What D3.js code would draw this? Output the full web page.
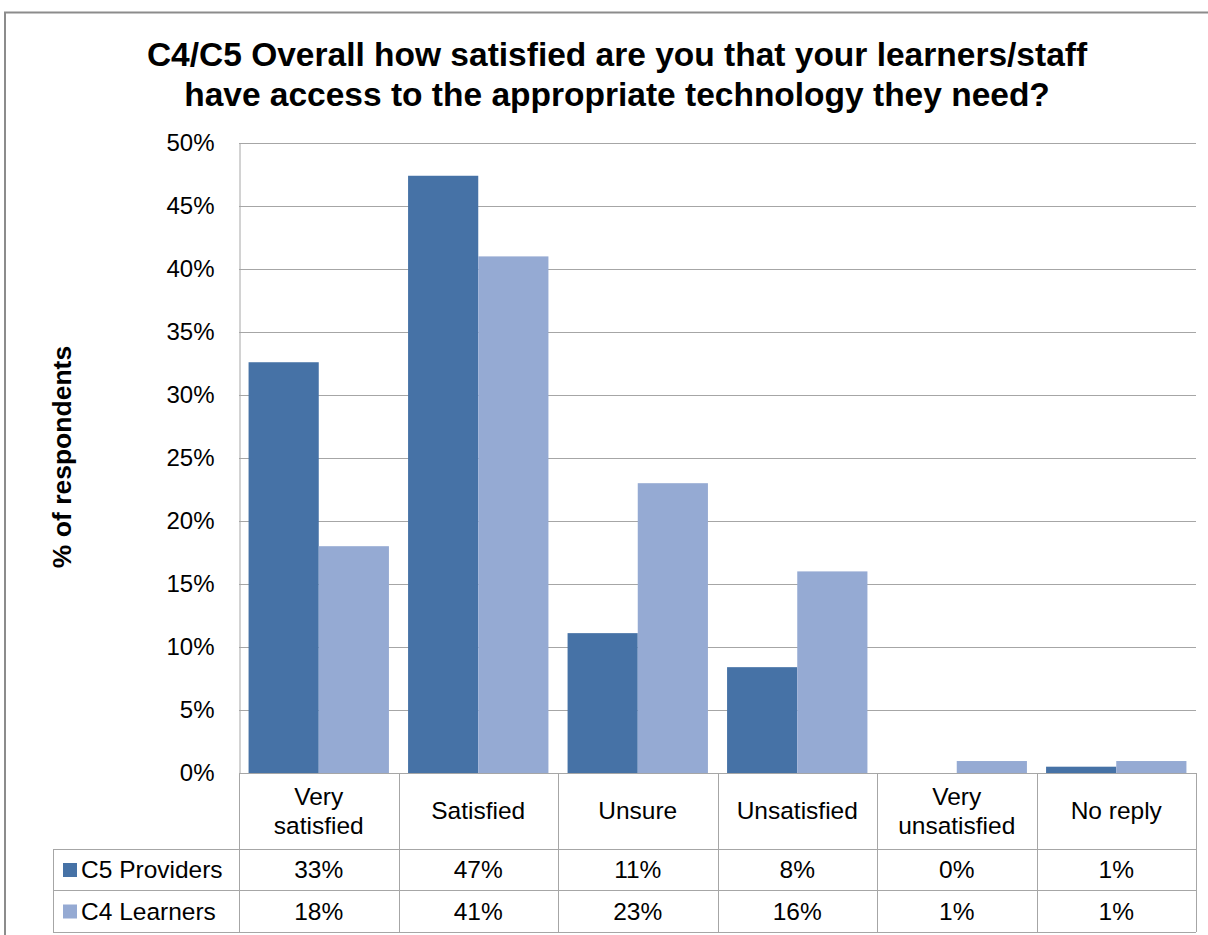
<!DOCTYPE html>
<html>
<head>
<meta charset="utf-8">
<script src="https://cdn.jsdelivr.net/npm/d3@7"></script>
<style>
  body { margin: 0; background: #fff; }
  svg { display: block; font-family: "Liberation Sans", Arial, sans-serif; }
</style>
</head>
<body>
<svg id="chart" width="1208" height="935"></svg>
<script>
// Response categories (header lines of the data table)
const categories = ["Very satisfied", "Satisfied", "Unsure", "Unsatisfied", "Very unsatisfied", "No reply"];
const categoryLines = [["Very", "satisfied"], ["Satisfied"], ["Unsure"], ["Unsatisfied"], ["Very", "unsatisfied"], ["No reply"]];

// Share of respondents per category
const seriesNames = ["C5 Providers", "C4 Learners"];
const providers = [0.326, 0.474, 0.111, 0.084, 0.0, 0.005];
const learners  = [0.180, 0.410, 0.230, 0.160, 0.0095, 0.0095];

const yTicks = [0, 0.05, 0.10, 0.15, 0.20, 0.25, 0.30, 0.35, 0.40, 0.45, 0.50];

const colors = ["#4672A6", "#95AAD3"];
const series = [providers, learners];

const svg = d3.select("#chart");

// Outer frame
svg.append("rect")
  .attr("x", 5).attr("y", 12.5)
  .attr("width", 1220).attr("height", 940)
  .attr("fill", "none").attr("stroke", "#8c8c8c").attr("stroke-width", 2);

// Title
const title = svg.append("text")
  .attr("x", 617).attr("text-anchor", "middle")
  .attr("font-weight", "bold").attr("font-size", 33.5).attr("fill", "#000");
title.append("tspan").attr("x", 617).attr("y", 66).text("C4/C5 Overall how satisfied are you that your learners/staff");
title.append("tspan").attr("x", 617).attr("y", 106).text("have access to the appropriate technology they need?");

// Plot area
const plotLeft = 239, plotRight = 1196, plotTop = 143, plotBottom = 773;
const tableLeft = 53, row1 = 849, row2 = 890, row3 = 932;

const x = d3.scaleBand().domain(categories).range([plotLeft, plotRight]);
const y = d3.scaleLinear().domain([0, 0.5]).range([plotBottom, plotTop]);

// Gridlines
svg.append("g")
  .selectAll("line").data(yTicks.filter(t => t > 0)).join("line")
  .attr("x1", plotLeft).attr("x2", plotRight)
  .attr("y1", d => Math.round(y(d)) + 0.5).attr("y2", d => Math.round(y(d)) + 0.5)
  .attr("stroke", "#a6a6a6").attr("stroke-width", 1);

// Y axis
const yAxis = d3.axisLeft(y).tickValues(yTicks).tickFormat(d3.format(".0%")).tickSize(0).tickPadding(25);
const gy = svg.append("g").attr("transform", `translate(${plotLeft + 0.5},0)`).call(yAxis);
gy.select(".domain").attr("stroke", "#a6a6a6");
gy.selectAll("text").attr("font-size", 24).attr("fill", "#000")
  .attr("font-family", "Liberation Sans, Arial, sans-serif");

// Y axis title
svg.append("text")
  .attr("transform", "translate(71,457) rotate(-90)")
  .attr("text-anchor", "middle")
  .attr("font-weight", "bold").attr("font-size", 26.5).attr("fill", "#000")
  .text("% of respondents");

// Bars
const bw = x.bandwidth();
const barW = bw * 0.44;
const gap = (bw - 2 * barW) / 2;
series.forEach((vals, si) => {
  svg.append("g")
    .selectAll("rect").data(vals).join("rect")
    .attr("x", (d, i) => x(categories[i]) + gap + si * barW)
    .attr("y", d => y(d))
    .attr("width", barW)
    .attr("height", d => y(0) - y(d))
    .attr("fill", colors[si]);
});

// Data table lines
const tl = svg.append("g").attr("stroke", "#a6a6a6").attr("stroke-width", 1);
tl.append("line").attr("x1", plotLeft).attr("x2", plotRight).attr("y1", plotBottom + 0.5).attr("y2", plotBottom + 0.5);
[row1, row2, row3].forEach(r => {
  tl.append("line").attr("x1", tableLeft).attr("x2", plotRight).attr("y1", r + 0.5).attr("y2", r + 0.5);
});
categories.forEach(c => {
  tl.append("line").attr("x1", Math.round(x(c)) + 0.5).attr("x2", Math.round(x(c)) + 0.5)
    .attr("y1", plotBottom).attr("y2", row3);
});
tl.append("line").attr("x1", plotRight + 0.5).attr("x2", plotRight + 0.5).attr("y1", plotBottom).attr("y2", row3);
tl.append("line").attr("x1", tableLeft + 0.5).attr("x2", tableLeft + 0.5).attr("y1", row1).attr("y2", row3);

// Header labels
categories.forEach((c, i) => {
  const lines = categoryLines[i];
  const cx = x(c) + bw / 2;
  const mid = (plotBottom + row1) / 2 + 8;
  lines.forEach((ln, j) => {
    svg.append("text")
      .attr("x", cx).attr("y", mid + (j - (lines.length - 1) / 2) * 29)
      .attr("text-anchor", "middle").attr("font-size", 24.5).attr("fill", "#000")
      .text(ln);
  });
});

// Value rows with legend keys
const fmt = v => Math.round(v * 100) + "%";
const rowBounds = [[row1, row2], [row2, row3]];
series.forEach((vals, si) => {
  const rm = (rowBounds[si][0] + rowBounds[si][1]) / 2;
  svg.append("rect")
    .attr("x", 63).attr("y", rm - 6.5).attr("width", 14).attr("height", 14)
    .attr("fill", colors[si]);
  svg.append("text")
    .attr("x", 81).attr("y", rm + 8.5)
    .attr("font-size", 24.5).attr("fill", "#000")
    .text(seriesNames[si]);
  vals.forEach((v, i) => {
    svg.append("text")
      .attr("x", x(categories[i]) + bw / 2).attr("y", rm + 8.5)
      .attr("text-anchor", "middle").attr("font-size", 24.5).attr("fill", "#000")
      .text(fmt(v));
  });
});
</script>
</body>
</html>
